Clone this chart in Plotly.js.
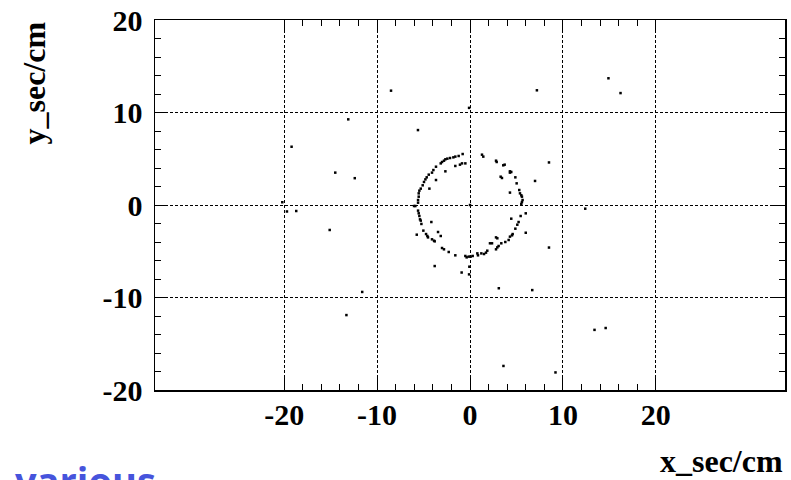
<!DOCTYPE html>
<html>
<head>
<meta charset="utf-8">
<script src="https://cdn.plot.ly/plotly-3.0.1.min.js"></script>
<style>html,body{margin:0;padding:0;background:#fff;}#chart{width:791px;height:480px;}</style>
</head>
<body>
<div id="chart"></div>
<script>
// Ring points (x_sec, y_sec in cm)
const ringX = [-0.79,-1.22,-1.58,-1.79,-2.15,-2.44,-2.65,-2.80,-3.01,-3.15,-3.66,-3.94,-4.09,-4.44,-4.66,-4.80,-4.95,-5.09,-5.30,-5.45,-5.52,-5.52,-5.59,-5.59,-5.88,-6.02,-5.59,-5.52,-5.45,-5.38,-5.30,-5.23,-5.02,-4.73,-4.59,-4.52,-4.09,-3.87,-3.80,-3.01,-2.80,-2.29,-1.58,-0.50,-0.36,-0.14,0.07,0.29,0.79,0.86,1.22,1.51,1.72,1.86,2.15,2.37,2.80,2.94,3.08,2.80,2.94,3.37,3.80,4.16,4.30,4.52,4.59,4.88,5.09,5.23,5.45,5.52,5.59,5.66,5.59,5.52,5.38,5.30,5.02,4.88,4.44,4.30,4.30,3.73,3.58,2.87,2.80,1.43,1.29];
const ringY = [5.51,5.30,5.23,5.15,5.08,5.01,4.94,4.79,4.65,4.50,4.14,3.78,3.50,3.28,2.99,2.77,2.49,2.13,1.77,1.55,1.26,0.90,0.54,0.25,-0.11,-0.11,-0.61,-0.90,-1.19,-1.55,-1.69,-2.05,-2.77,-3.14,-3.35,-3.50,-3.71,-3.86,-3.93,-4.65,-4.79,-5.08,-5.44,-5.51,-5.66,-5.58,-5.58,-5.51,-5.23,-5.44,-5.23,-5.30,-5.15,-4.94,-4.14,-4.14,-4.79,-4.58,-4.43,-3.50,-3.60,-4.14,-4.00,-3.78,-3.42,-3.28,-3.14,-2.56,-2.13,-1.84,-1.19,0.11,0.32,0.54,0.90,1.05,1.26,1.62,2.34,2.99,3.57,3.64,3.50,4.36,4.29,4.65,4.79,5.23,5.44];
// Inner / nearby points
const innerX = [-0.50,-0.86,-1.08,-1.58,-2.65,-3.66,-4.37,-4.16,-5.73,-3.44,-3.15,-0.07,3.30,3.44,4.30,4.44,0.00];
const innerY = [4.50,4.50,4.36,4.22,3.64,2.70,1.77,-1.84,-3.21,-2.92,-3.35,-6.67,3.06,2.92,1.34,-1.48,0.00];
// Scattered points
const farX = [-8.5,-13.1,-19.2,-14.5,-12.4,-20.2,-19.7,-18.7,-15.1,-11.6,-13.3,7.2,14.9,16.2,-0.1,-5.6,8.5,7.0,12.4,6.0,6.0,8.5,-3.8,-0.9,-0.1,3.1,6.7,13.4,14.6,3.6,9.2];
const farY = [12.36,9.26,6.3,3.5,2.9,0.3,-0.7,-0.65,-2.7,-9.4,-11.9,12.4,13.7,12.1,10.5,8.1,4.6,2.6,-0.4,-0.9,-3.0,-4.6,-6.6,-7.3,-7.5,-9.0,-9.2,-13.5,-13.3,-17.4,-18.1];

const majorTicks = [-20,-10,0,10,20];
const majorLabels = ['-20','-10','0','10','20'];
const minorX = [-18,-16,-14,-12,-8,-6,-4,-2,2,4,6,8,12,14,16,18];
const minorY = [-18,-16,-14,-12,-8,-6,-4,-2,2,4,6,8,12,14,16,18];

const xAll = ringX.concat(innerX, farX);
const yAll = ringY.concat(innerY, farY);

const tickFont = {family:'"Liberation Serif", "Times New Roman", serif', size:30, color:'#000', weight:'bold'};
const titleFont = {family:'"Liberation Serif", "Times New Roman", serif', size:32, color:'#000', weight:'bold'};

const axisCommon = {
  showline:true, linecolor:'#000', linewidth:1.5, mirror:'ticks',
  ticks:'inside', ticklen:12, tickwidth:1, tickcolor:'#000',
  tickmode:'array', tickvals:majorTicks, ticktext:majorLabels,
  showgrid:true, gridcolor:'#000', gridwidth:1, griddash:'3px,2px',
  zeroline:false, tickfont:tickFont, fixedrange:true
};

const layout = {
  width:791, height:480,
  margin:{l:155, r:6, t:20, b:90},
  paper_bgcolor:'#fff', plot_bgcolor:'#fff',
  showlegend:false,
  xaxis:Object.assign({}, axisCommon, {
    range:[-33.9, 33.9],
    ticklabelstandoff:-3,
    minor:{tickmode:'array', tickvals:minorX, ticks:'inside', ticklen:6, tickcolor:'#000', tickwidth:1, showgrid:false}
  }),
  yaxis:Object.assign({}, axisCommon, {
    range:[-20, 20],
    ticklabelstandoff:5,
    minor:{tickmode:'array', tickvals:minorY, ticks:'inside', ticklen:6, tickcolor:'#000', tickwidth:1, showgrid:false}
  }),
  annotations:[
    {text:'y_sec/cm', xref:'paper', yref:'paper', x:(33-155)/630, y:1.0, xanchor:'center', yanchor:'top', textangle:-90, showarrow:false, font:titleFont},
    {text:'x_sec/cm', xref:'paper', yref:'paper', x:(785-155)/630, y:(390-461)/370, xanchor:'right', yanchor:'middle', showarrow:false, font:titleFont},
    {text:'various', xref:'paper', yref:'paper', x:(13-155)/630, y:(390-452)/370, xanchor:'left', yanchor:'top', showarrow:false, font:{family:'"Open Sans", sans-serif', size:38, color:'#4654dc', weight:'bold'}}
  ]
};

const data = [{
  type:'scatter', mode:'markers', x:xAll, y:yAll,
  marker:{symbol:'square', size:2.5, color:'#000'},
  hoverinfo:'skip', cliponaxis:true
}];

Plotly.newPlot('chart', data, layout, {staticPlot:true, displayModeBar:false});
</script>
</body>
</html>
